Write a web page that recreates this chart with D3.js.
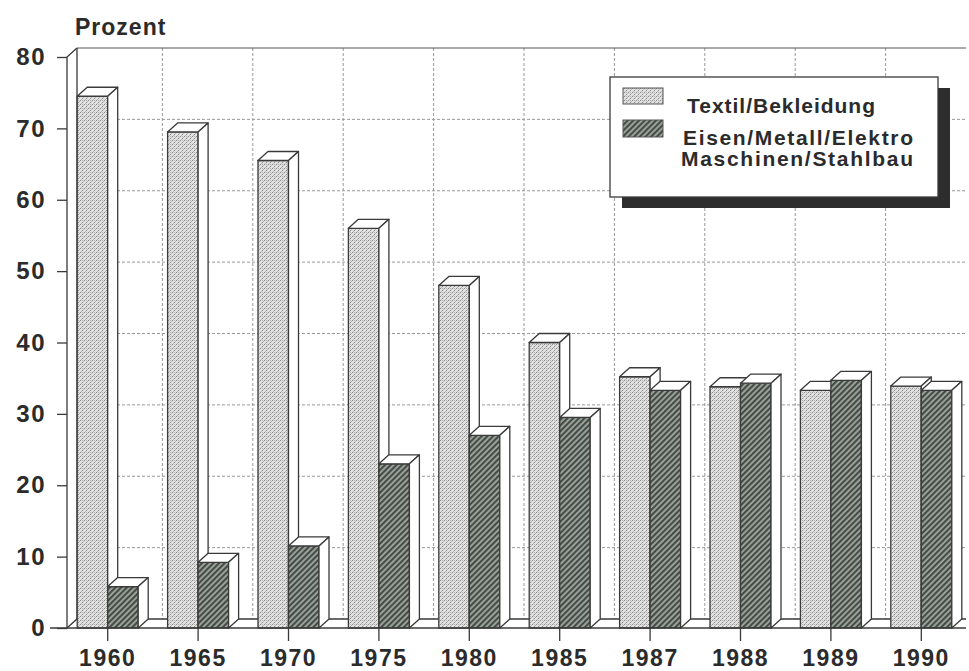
<!DOCTYPE html>
<html>
<head>
<meta charset="utf-8">
<script src="https://cdn.jsdelivr.net/npm/d3@7"></script>
<style>
  body { margin: 0; background: #fff; }
  svg { display: block; }
  text { font-family: "Liberation Sans", Arial, sans-serif; font-weight: bold; fill: #2b2b2b; }
</style>
</head>
<body>
<svg id="chart" width="969" height="671"></svg>
<script>
// Anteile in Prozent
const years   = ["1960", "1965", "1970", "1975", "1980", "1985", "1987", "1988", "1989", "1990"];
const textil  = [74.5, 69.5, 65.5, 56, 48, 40, 35.2, 33.8, 33.3, 33.9];
const metall  = [5.8, 9.2, 11.5, 23, 27, 29.5, 33.3, 34.3, 34.7, 33.3];
const seriesKeys = ["textil", "metall"];
const legendLines = [["Textil/Bekleidung"], ["Eisen/Metall/Elektro", "Maschinen/Stahlbau"]];
const yTicks = [0, 10, 20, 30, 40, 50, 60, 70, 80];
const yTitle = "Prozent";

const svg = d3.select("#chart");
const defs = svg.append("defs");

// fill patterns: stipple for textiles, diagonal hatch for metal
const stip = defs.append("pattern").attr("id", "stipple")
  .attr("patternUnits", "userSpaceOnUse").attr("width", 4).attr("height", 4);
stip.append("rect").attr("width", 4).attr("height", 4).attr("fill", "#e2e2e2");
[[0, 0], [2, 2], [3, 1], [1, 3], [2, 0]].forEach(([a, b], i) =>
  stip.append("rect").attr("x", a).attr("y", b).attr("width", 1).attr("height", 1)
    .attr("fill", i < 2 ? "#8a8a8a" : "#b4b4b4"));

const hatch = defs.append("pattern").attr("id", "hatch")
  .attr("patternUnits", "userSpaceOnUse").attr("width", 4).attr("height", 4)
  .attr("patternTransform", "rotate(45)");
hatch.append("rect").attr("width", 4).attr("height", 4).attr("fill", "#a2a8a2");
hatch.append("rect").attr("width", 2.2).attr("height", 4).attr("fill", "#454b45");

const fills = { textil: "url(#stipple)", metall: "url(#hatch)" };
const values = { textil, metall };

const dX = 10, dY = 9;           // 3D depth offset
const axisX = 67;
const x = d3.scaleBand().domain(years).range([62, 966]);
const xSub = d3.scaleBand().domain(seriesKeys).range([-30, 31]);
const y = d3.scaleLinear().domain([0, 80]).range([628, 57]);
const y0 = y(0);
const right = 966;

const ink = "#3a3a3a";

// back wall grid
const wall = svg.append("g");
wall.selectAll("line.h").data(yTicks.filter(v => v > 0 && v < 80)).join("line")
  .attr("x1", axisX + dX).attr("x2", right)
  .attr("y1", d => y(d) - dY).attr("y2", d => y(d) - dY)
  .attr("stroke", "#999").attr("stroke-width", 1).attr("stroke-dasharray", "3,2");
wall.selectAll("line.v").data(years.slice(1)).join("line")
  .attr("x1", d => x(d) + dX).attr("x2", d => x(d) + dX)
  .attr("y1", y(80) - dY).attr("y2", y0 - dY)
  .attr("stroke", "#999").attr("stroke-width", 1).attr("stroke-dasharray", "3,2");
// top edge of the back wall
wall.append("line").attr("x1", axisX + dX).attr("x2", right)
  .attr("y1", y(80) - dY).attr("y2", y(80) - dY)
  .attr("stroke", "#555").attr("stroke-width", 1.2);
// left wall
wall.append("line").attr("x1", axisX + dX).attr("x2", axisX + dX)
  .attr("y1", y(80) - dY).attr("y2", y0 - dY).attr("stroke", ink).attr("stroke-width", 1.3);
wall.append("path")
  .attr("d", `M${axisX},${y0} L${axisX},${y(80)} L${axisX + dX},${y(80) - dY}`)
  .attr("fill", "none").attr("stroke", ink).attr("stroke-width", 1.3);
// floor
wall.append("path")
  .attr("d", `M${axisX},${y0} L${axisX + dX},${y0 - dY} L${right},${y0 - dY}`)
  .attr("fill", "none").attr("stroke", ink).attr("stroke-width", 1.3);

// 3D bars
function bar3d(g, x0, w, v, fill) {
  const yt = y(v);
  g.append("rect").attr("x", x0).attr("y", yt).attr("width", w).attr("height", y0 - yt)
    .attr("fill", fill).attr("stroke", ink).attr("stroke-width", 1.3);
  g.append("path")
    .attr("d", `M${x0},${yt} L${x0 + dX},${yt - dY} L${x0 + w + dX},${yt - dY} L${x0 + w},${yt} Z`)
    .attr("fill", "#fff").attr("stroke", ink).attr("stroke-width", 1.3).attr("stroke-linejoin", "round");
  g.append("path")
    .attr("d", `M${x0 + w},${yt} L${x0 + w + dX},${yt - dY} L${x0 + w + dX},${y0 - dY} L${x0 + w},${y0} Z`)
    .attr("fill", "#fff").attr("stroke", ink).attr("stroke-width", 1.3).attr("stroke-linejoin", "round");
}

const bars = svg.append("g");
years.forEach((yr, i) => {
  const c = x(yr) + x.bandwidth() / 2;
  seriesKeys.forEach(k => {
    bar3d(bars, c + xSub(k), xSub.bandwidth(), values[k][i], fills[k]);
  });
});

// axes
const yAxis = d3.axisLeft(y).tickValues(yTicks).tickSize(10).tickPadding(11);
const gy = svg.append("g").attr("transform", `translate(${axisX},0)`).call(yAxis);
gy.select(".domain").remove();
gy.selectAll(".tick line").attr("stroke", ink).attr("stroke-width", 1.3);
gy.selectAll(".tick text").attr("font-size", 24).attr("font-family", null)
  .attr("fill", "#2b2b2b").style("letter-spacing", "1.5px");

const xCenter = d3.scalePoint().domain(years)
  .range([x(years[0]) + x.bandwidth() / 2, x(years[years.length - 1]) + x.bandwidth() / 2]);
const xAxis = d3.axisBottom(xCenter).tickSize(13).tickPadding(9).tickSizeOuter(0);
const gx = svg.append("g").attr("transform", `translate(0,${y0})`).call(xAxis);
gx.select(".domain").remove();
gx.selectAll(".tick line").attr("stroke", ink).attr("stroke-width", 1.3);
gx.selectAll(".tick text").attr("font-size", 23).attr("font-family", null)
  .attr("fill", "#2b2b2b").style("letter-spacing", "1.5px");
svg.append("line").attr("x1", 50).attr("x2", right).attr("y1", y0).attr("y2", y0)
  .attr("stroke", ink).attr("stroke-width", 1.4);

svg.append("text").attr("x", 75).attr("y", 35).attr("font-size", 23)
  .style("letter-spacing", "1px").text(yTitle);

// legend with drop shadow
const lg = svg.append("g");
lg.append("rect").attr("x", 622).attr("y", 88).attr("width", 328).attr("height", 120).attr("fill", "#2d2d2d");
lg.append("rect").attr("x", 610).attr("y", 77).attr("width", 328).attr("height", 120)
  .attr("fill", "#fff").attr("stroke", ink).attr("stroke-width", 1.3);
const swY = [88, 120];
const textY = [[113], [145, 166]];
const textW = [[188], [230, 232]];
const textX = [[687], [683, 681]];
seriesKeys.forEach((k, i) => {
  lg.append("rect").attr("x", 623).attr("y", swY[i]).attr("width", 40).attr("height", i === 0 ? 16 : 17)
    .attr("fill", fills[k]).attr("stroke", "#555").attr("stroke-width", 1);
  legendLines[i].forEach((t, j) => {
    lg.append("text").attr("x", textX[i][j]).attr("y", textY[i][j]).attr("font-size", 21)
      .attr("textLength", textW[i][j]).attr("lengthAdjust", "spacing").text(t);
  });
});
</script>
</body>
</html>
